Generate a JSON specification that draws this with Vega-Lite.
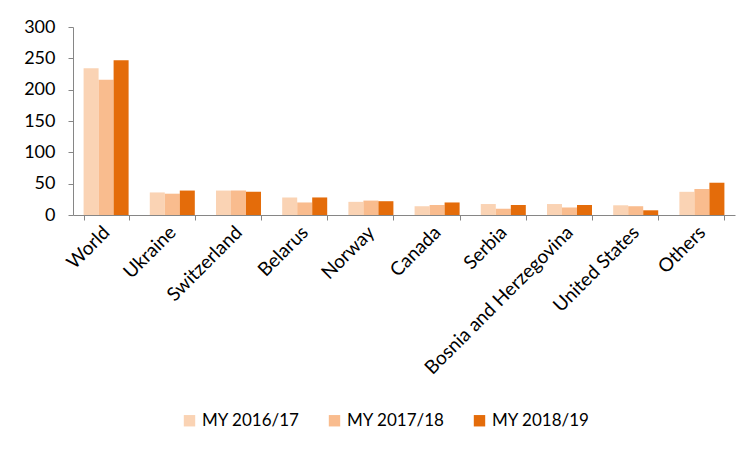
{
  "$schema": "https://vega.github.io/schema/vega-lite/v6.json",
  "width": 662,
  "height": 188,
  "autosize": {"type": "none"},
  "padding": {"left": 73, "top": 27, "right": 11, "bottom": 238},
  "background": "white",
  "data": {
    "values": [
      {"country": "World", "year": "MY 2016/17", "value": 234},
      {"country": "World", "year": "MY 2017/18", "value": 216},
      {"country": "World", "year": "MY 2018/19", "value": 247},
      {"country": "Ukraine", "year": "MY 2016/17", "value": 36},
      {"country": "Ukraine", "year": "MY 2017/18", "value": 34},
      {"country": "Ukraine", "year": "MY 2018/19", "value": 39},
      {"country": "Switzerland", "year": "MY 2016/17", "value": 39},
      {"country": "Switzerland", "year": "MY 2017/18", "value": 39},
      {"country": "Switzerland", "year": "MY 2018/19", "value": 37},
      {"country": "Belarus", "year": "MY 2016/17", "value": 28},
      {"country": "Belarus", "year": "MY 2017/18", "value": 20},
      {"country": "Belarus", "year": "MY 2018/19", "value": 28},
      {"country": "Norway", "year": "MY 2016/17", "value": 21},
      {"country": "Norway", "year": "MY 2017/18", "value": 23},
      {"country": "Norway", "year": "MY 2018/19", "value": 22},
      {"country": "Canada", "year": "MY 2016/17", "value": 14},
      {"country": "Canada", "year": "MY 2017/18", "value": 16},
      {"country": "Canada", "year": "MY 2018/19", "value": 20},
      {"country": "Serbia", "year": "MY 2016/17", "value": 17.5},
      {"country": "Serbia", "year": "MY 2017/18", "value": 10},
      {"country": "Serbia", "year": "MY 2018/19", "value": 16},
      {"country": "Bosnia and Herzegovina", "year": "MY 2016/17", "value": 17.5},
      {"country": "Bosnia and Herzegovina", "year": "MY 2017/18", "value": 12},
      {"country": "Bosnia and Herzegovina", "year": "MY 2018/19", "value": 16},
      {"country": "United States", "year": "MY 2016/17", "value": 15.5},
      {"country": "United States", "year": "MY 2017/18", "value": 14},
      {"country": "United States", "year": "MY 2018/19", "value": 7.5},
      {"country": "Others", "year": "MY 2016/17", "value": 37},
      {"country": "Others", "year": "MY 2017/18", "value": 41.5},
      {"country": "Others", "year": "MY 2018/19", "value": 51.5}
    ]
  },
  "mark": {"type": "bar"},
  "encoding": {
    "x": {
      "field": "country",
      "type": "nominal",
      "sort": null,
      "scale": {"paddingInner": 0.32, "paddingOuter": 0.16},
      "axis": {
        "title": null,
        "labelAngle": -45,
        "labelAlign": "right",
        "labelBaseline": "middle",
        "labelFont": "Lato",
        "labelFontSize": 19,
        "labelColor": "#000000",
        "labelPadding": 9,
        "tickBand": "extent",
        "tickSize": 5,
        "tickColor": "#868686",
        "domainColor": "#868686",
        "labelLimit": 0
      }
    },
    "xOffset": {"field": "year", "type": "nominal", "scale": {"paddingInner": 0, "paddingOuter": 0}},
    "y": {
      "field": "value",
      "type": "quantitative",
      "scale": {"domain": [0, 300]},
      "axis": {
        "title": null,
        "values": [0, 50, 100, 150, 200, 250, 300],
        "grid": false,
        "labelFont": "Lato",
        "labelFontSize": 18,
        "labelColor": "#000000",
        "labelPadding": 13,
        "tickSize": 5,
        "tickColor": "#868686",
        "domainColor": "#868686"
      }
    },
    "color": {
      "field": "year",
      "type": "nominal",
      "scale": {
        "domain": ["MY 2016/17", "MY 2017/18", "MY 2018/19"],
        "range": ["#FAD3B4", "#F9BC8E", "#E46C0A"]
      },
      "legend": {
        "title": null,
        "orient": "none",
        "direction": "horizontal",
        "legendX": 108,
        "legendY": 385,
        "symbolType": "square",
        "symbolSize": 130,
        "symbolStrokeWidth": 0,
        "labelFont": "Lato",
        "labelFontSize": 17,
        "labelColor": "#000000",
        "labelOffset": 4,
        "columnPadding": 26
      }
    }
  },
  "config": {
    "view": {"stroke": null}
  }
}
